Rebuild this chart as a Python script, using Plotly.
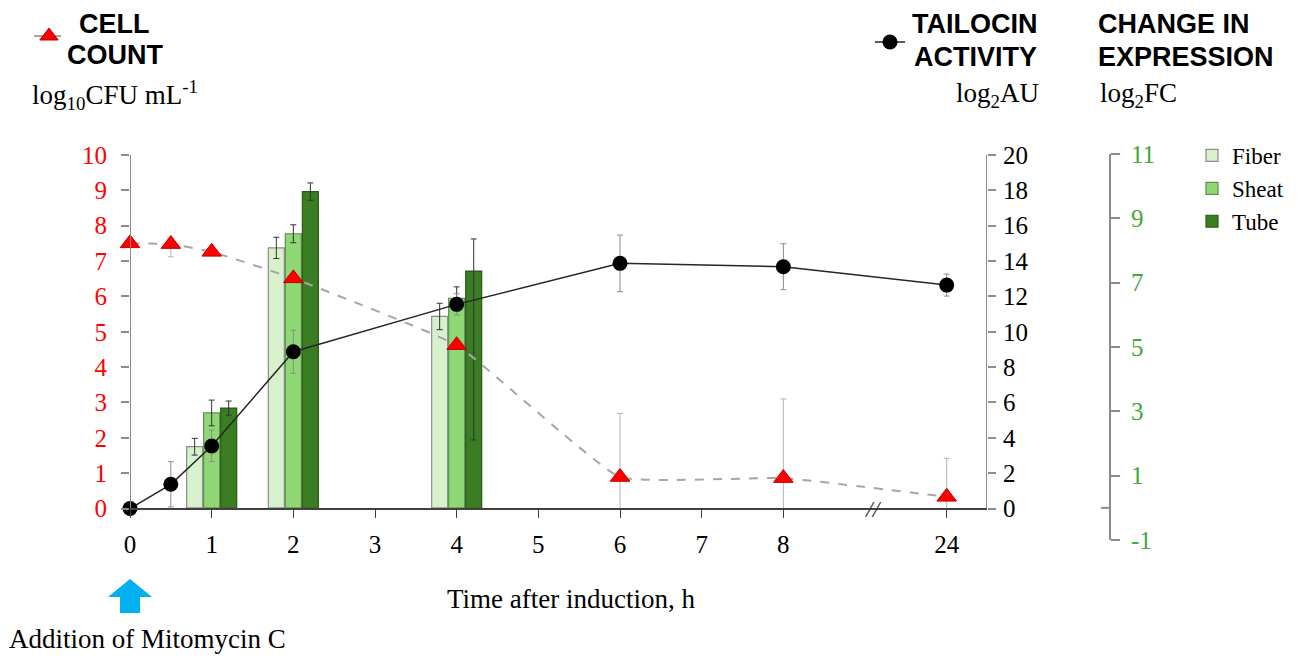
import plotly.graph_objects as go

# ---------------- data ----------------
tick_pos = [0, 1, 2, 3, 4, 5, 6, 7, 8, 10]
tick_text = ["0", "1", "2", "3", "4", "5", "6", "7", "8", "24"]

fc_ticks = [-1, 1, 3, 5, 7, 9, 11]
fc_tick_text = ["-1", "1", "3", "5", "7", "9", "11"]

time_pos = [0, 0.5, 1, 2, 4, 6, 8, 10]          # 10 = 24 h (after axis break)
cell_count = [7.50, 7.48, 7.26, 6.51, 4.62, 0.89, 0.86, 0.33]
cell_err_plus = [0.05, 0.0, 0.05, 0.05, 0.05, 1.80, 2.24, 1.09]
cell_err_minus = [0.05, 0.36, 0.05, 0.05, 0.05, 0.89, 0.86, 0.33]

tailocin = [0.0, 1.37, 3.54, 8.87, 11.55, 13.87, 13.68, 12.64]
tailocin_err = [0.0, 1.28, 0.89, 1.22, 0.6, 1.6, 1.3, 0.62]

bar_pos = [1, 2, 4]
fiber = [1.90, 8.08, 5.95]
fiber_err = [0.26, 0.33, 0.41]
sheat = [2.95, 8.52, 6.51]
sheat_err = [0.40, 0.28, 0.36]
tube = [3.10, 9.83, 7.36]
tube_err_plus = [0.22, 0.27, 1.00]
tube_err_minus = [0.22, 0.27, 5.25]

# ---------------- geometry helpers (reference-pixel based) ----------------
OFF = 8                      # page offset of the figure div
W, H = 1306 - OFF, 658 - OFF
PLOT_L, PLOT_R, PLOT_T, PLOT_B = 130, 1110, 154, 540   # page pixels
L, T = PLOT_L - OFF, PLOT_T - OFF
R = 1306 - PLOT_R
B = 658 - PLOT_B
PW, PH = PLOT_R - PLOT_L, PLOT_B - PLOT_T


def px(x):
    return (x - PLOT_L) / PW


def py(y):
    return (PLOT_B - y) / PH


X_UNIT = 81.67
X_RIGHT = 987
XR = (X_RIGHT - PLOT_L) / X_UNIT
XD = (X_RIGHT - PLOT_L) / PW
ZERO_PX = 508.5
LEFT_UNIT = (ZERO_PX - 155) / 10.0
left_lo = -(PLOT_B - ZERO_PX) / LEFT_UNIT
left_hi = (ZERO_PX - PLOT_T) / LEFT_UNIT

SERIF = "Liberation Serif"
SANS = "Liberation Sans"
GREEN_TXT = "#43a83c"
TICK_SIZE = 25
TXT_SIZE = 27

fig = go.Figure()

fig.add_trace(go.Bar(
    x=bar_pos, y=fiber, name="Fiber", xaxis="x", yaxis="y",
    marker=dict(color="#d7f1cd", line=dict(color="#8c8c8c", width=1.2)),
    error_y=dict(type="data", array=fiber_err, color="#333333", thickness=1, width=3),
    legendgroup="f", legend="legend"))
fig.add_trace(go.Bar(
    x=bar_pos, y=sheat, name="Sheat", xaxis="x", yaxis="y",
    marker=dict(color="#8fd875", line=dict(color="#5f8f50", width=1.2)),
    error_y=dict(type="data", array=sheat_err, color="#333333", thickness=1, width=3),
    legendgroup="s", legend="legend"))
fig.add_trace(go.Bar(
    x=bar_pos, y=tube, name="Tube", xaxis="x", yaxis="y",
    marker=dict(color="#3b7d23", line=dict(color="#2a5a19", width=1.2)),
    error_y=dict(type="data", symmetric=False, array=tube_err_plus,
                 arrayminus=tube_err_minus, color="#333333", thickness=1, width=3),
    legendgroup="t", legend="legend"))

fig.add_trace(go.Scatter(
    x=time_pos, y=cell_count, name=" ", xaxis="x", yaxis="y2",
    mode="lines+markers", cliponaxis=False,
    line=dict(color="#a6a6a6", width=2, dash="dash", shape="spline", smoothing=0.35),
    marker=dict(symbol="triangle-up", size=17, color="#ff0000",
                line=dict(color="#c00000", width=1)),
    error_y=dict(type="data", symmetric=False, array=cell_err_plus,
                 arrayminus=cell_err_minus, color="#b5b5b5", thickness=1, width=3),
    legend="legend2"))

fig.add_trace(go.Scatter(
    x=time_pos, y=tailocin, name=" ", xaxis="x", yaxis="y3",
    mode="lines+markers", cliponaxis=False,
    line=dict(color="#262626", width=1.5),
    marker=dict(symbol="circle", size=15, color="#000000"),
    error_y=dict(type="data", array=tailocin_err, color="#8c8c8c", thickness=1, width=3),
    legend="legend3"))

shapes = [
    dict(type="line", xref="x", yref="y2", x0=0, x1=0, y0=0, y1=10,
         line=dict(color="#8c8c8c", width=2)),
    dict(type="line", xref="x", yref="y3", x0=XR, x1=XR, y0=0, y1=20,
         line=dict(color="#8c8c8c", width=2)),
    dict(type="line", xref="paper", yref="y", x0=1 - 9 / PW, x1=1, y0=0, y1=0,
         line=dict(color="#8c8c8c", width=2)),
]
arrow_pts = [(130, 579), (152, 597), (140, 597), (140, 613), (120, 613), (120, 597), (108, 597)]
path = "M " + " L ".join(f"{px(a):.5f},{py(b):.5f}" for a, b in arrow_pts) + " Z"
shapes.append(dict(type="path", xref="paper", yref="paper", path=path,
                   fillcolor="#00b0f0", line=dict(width=0)))


def txt(text, x, y, xanchor, family, size, yanchor="middle"):
    return dict(text=text, x=px(x), y=py(y), xref="paper", yref="paper",
                xanchor=xanchor, yanchor=yanchor, showarrow=False,
                font=dict(family=family, size=size, color="black"))


annotations = [
    txt("<b>CELL</b>", 114, 24, "center", SANS, TXT_SIZE),
    txt("<b>COUNT</b>", 115, 55, "center", SANS, TXT_SIZE),
    txt("log<sub>10</sub>CFU mL<sup>-1</sup>", 30, 95, "left", SERIF, TXT_SIZE),
    txt("<b>TAILOCIN</b>", 1039, 24, "right", SANS, TXT_SIZE),
    txt("<b>ACTIVITY</b>", 1039, 57, "right", SANS, TXT_SIZE),
    txt("log<sub>2</sub>AU", 1041, 95, "right", SERIF, TXT_SIZE),
    txt("<b>CHANGE IN</b>", 1096, 24, "left", SANS, TXT_SIZE),
    txt("<b>EXPRESSION</b>", 1096, 57, "left", SANS, TXT_SIZE),
    txt("log<sub>2</sub>FC", 1098, 95, "left", SERIF, TXT_SIZE),
    txt("Time after induction, h", 571, 599, "center", SERIF, TXT_SIZE),
    txt("Addition of Mitomycin C", 147, 639, "center", SERIF, TXT_SIZE),
    dict(text="<i>//</i>", x=(873 - PLOT_L) / X_UNIT, y=0, xref="x", yref="y2",
         xanchor="center", yanchor="middle", showarrow=False,
         font=dict(family=SERIF, size=24, color="#333333")),
]

fig.update_layout(
    width=W, height=H,
    margin=dict(l=L, r=R, t=T, b=B, pad=0, autoexpand=False),
    plot_bgcolor="white", paper_bgcolor="white",
    barmode="group", bargap=0.375, bargroupgap=0.06,
    font=dict(family=SERIF, size=24, color="black"),
    xaxis=dict(domain=[0, XD], range=[0, XR], anchor="free",
               position=(PLOT_B - ZERO_PX) / PH, automargin=False,
               showline=True, linecolor="#404040", linewidth=1.5,
               ticks="outside", ticklen=9, tickcolor="#404040", tickwidth=1.2,
               tickvals=tick_pos, ticktext=tick_text, ticklabelstandoff=5,
               tickfont=dict(family=SERIF, size=TICK_SIZE, color="black"),
               showgrid=False, zeroline=False),
    yaxis=dict(range=[-1, 11], anchor="free", position=1.0, side="right", automargin=False,
               showline=True, linecolor="#8c8c8c", linewidth=2,
               ticks="outside", ticklen=9, tickcolor="#8c8c8c", tickwidth=2,
               tickvals=fc_ticks, ticktext=fc_tick_text, ticklabelstandoff=6,
               tickfont=dict(family=SERIF, size=TICK_SIZE, color=GREEN_TXT),
               showgrid=False, zeroline=False),
    yaxis2=dict(overlaying="y", side="left", anchor="x", range=[left_lo, left_hi],
                automargin=False,
                showline=False, ticks="outside", ticklen=8, tickcolor="#8c8c8c", tickwidth=2,
                tickvals=list(range(0, 11)), ticklabelstandoff=9,
                tickfont=dict(family=SERIF, size=TICK_SIZE, color="#ff0000"),
                showgrid=False, zeroline=False),
    yaxis3=dict(overlaying="y", side="right", anchor="x", range=[2 * left_lo, 2 * left_hi],
                automargin=False,
                showline=False, ticks="outside", ticklen=8, tickcolor="#8c8c8c", tickwidth=2,
                tickvals=list(range(0, 21, 2)), ticklabelstandoff=2,
                tickfont=dict(family=SERIF, size=TICK_SIZE, color="black"),
                showgrid=False, zeroline=False),
    legend=dict(x=px(1192), y=py(134), xanchor="left", yanchor="top",
                font=dict(family=SERIF, size=23, color="black"),
                bgcolor="rgba(0,0,0,0)", tracegroupgap=1, traceorder="normal"),
    legend2=dict(x=px(29), y=py(36), xanchor="left", yanchor="middle",
                 bgcolor="rgba(0,0,0,0)", font=dict(size=10)),
    legend3=dict(x=px(870), y=py(42), xanchor="left", yanchor="middle",
                 bgcolor="rgba(0,0,0,0)", font=dict(size=10)),
    shapes=shapes,
    annotations=annotations,
    showlegend=True,
)

fig.write_html("out.html")
